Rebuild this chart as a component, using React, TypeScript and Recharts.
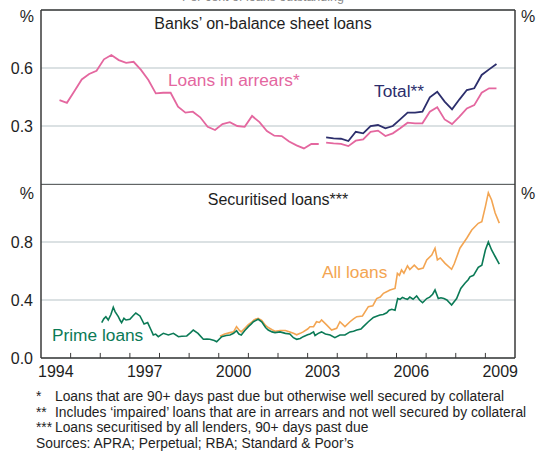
import { LineChart, Line, XAxis, YAxis, CartesianGrid, ReferenceLine } from 'recharts'

const FONT = "Arial, 'Liberation Sans', sans-serif"
const FRAME = '#3a3a3a'
const GRID = '#b8c3c7'
const PINK = '#e4679f'
const NAVY = '#2c2e6c'
const GREEN = '#0b7a56'
const ORANGE = '#f3a552'

// banks' on-balance sheet loans, quarterly
const arrearsDates = [
  1994.625, 1994.875, 1995.125, 1995.375, 1995.625, 1995.875, 1996.125, 1996.375,
  1996.625, 1996.875, 1997.125, 1997.375, 1997.625, 1997.875, 1998.125, 1998.375,
  1998.625, 1998.875, 1999.125, 1999.375, 1999.625, 1999.875, 2000.125, 2000.375,
  2000.625, 2000.875, 2001.125, 2001.375, 2001.625, 2001.875, 2002.125, 2002.375,
  2002.625, 2002.875, 2003.125, 2003.375, 2003.5,
  2003.625, 2003.875, 2004.125, 2004.375, 2004.625, 2004.875, 2005.125, 2005.375,
  2005.625, 2005.875, 2006.125, 2006.375, 2006.625, 2006.875, 2007.125, 2007.375,
  2007.625, 2007.875, 2008.125, 2008.375, 2008.625, 2008.875, 2009.125, 2009.375,
]
const arrearsValues = [
  0.434, 0.42, 0.48, 0.541, 0.569, 0.586, 0.645, 0.667,
  0.641, 0.627, 0.632, 0.59, 0.538, 0.469, 0.472, 0.472,
  0.4, 0.369, 0.374, 0.345, 0.296, 0.279, 0.31, 0.32,
  0.3, 0.296, 0.352, 0.32, 0.274, 0.25, 0.248, 0.22,
  0.2, 0.184, 0.207, 0.207, null,
  0.214, 0.21, 0.208, 0.196, 0.224, 0.231, 0.27, 0.276,
  0.248, 0.262, 0.288, 0.317, 0.314, 0.314, 0.374, 0.397,
  0.334, 0.31, 0.348, 0.391, 0.408, 0.472, 0.495, 0.495,
]
const totalDates = [
  2003.625, 2003.875, 2004.125, 2004.375, 2004.625, 2004.875, 2005.125, 2005.375,
  2005.625, 2005.875, 2006.125, 2006.375, 2006.625, 2006.875, 2007.125, 2007.375,
  2007.625, 2007.875, 2008.125, 2008.375, 2008.625, 2008.875, 2009.125, 2009.375,
]
const totalValues = [
  0.241, 0.236, 0.234, 0.222, 0.27, 0.262, 0.3, 0.305,
  0.288, 0.3, 0.334, 0.369, 0.369, 0.374, 0.448, 0.477,
  0.426, 0.386, 0.438, 0.486, 0.495, 0.564, 0.593, 0.621,
]

// securitised loans, roughly monthly
const primeDates = [
  1996.05, 1996.12, 1996.19, 1996.27, 1996.36, 1996.44, 1996.5, 1996.61, 1996.67, 1996.72,
  1996.8, 1996.87, 1997.0, 1997.1, 1997.2, 1997.34, 1997.48, 1997.6, 1997.7, 1997.79,
  1997.87, 1997.96, 1998.05, 1998.13, 1998.3, 1998.47, 1998.64, 1998.75, 1998.92, 1999.05,
  1999.14, 1999.3, 1999.48, 1999.6, 1999.7, 1999.85, 1999.93, 2000.1, 2000.25, 2000.38,
  2000.5, 2000.6, 2000.68, 2000.76, 2000.88, 2001.0, 2001.1, 2001.17, 2001.33, 2001.45,
  2001.58, 2001.67, 2001.8, 2001.9, 2002.07, 2002.25, 2002.4, 2002.52, 2002.63, 2002.75,
  2002.85, 2003.0, 2003.08, 2003.2, 2003.25, 2003.36, 2003.47, 2003.6, 2003.76, 2003.92,
  2004.09, 2004.26, 2004.43, 2004.55, 2004.66, 2004.8, 2004.88, 2005.05, 2005.22, 2005.35,
  2005.44, 2005.55, 2005.67, 2005.75, 2005.84, 2005.95, 2006.04, 2006.12, 2006.2, 2006.28,
  2006.37, 2006.45, 2006.56, 2006.68, 2006.78, 2006.88, 2007.02, 2007.12, 2007.22, 2007.3,
  2007.41, 2007.5, 2007.6, 2007.7, 2007.86, 2008.03, 2008.17, 2008.31, 2008.42, 2008.48,
  2008.6, 2008.76, 2008.88, 2009.0, 2009.1, 2009.21, 2009.33, 2009.47,
]
const primeValues = [
  0.244, 0.27, 0.285, 0.262, 0.3, 0.35, 0.32, 0.285, 0.26, 0.244,
  0.274, 0.262, 0.267, 0.29, 0.31, 0.29, 0.234, 0.244, 0.2, 0.159,
  0.165, 0.147, 0.16, 0.17, 0.159, 0.17, 0.147, 0.15, 0.152, 0.175,
  0.193, 0.17, 0.129, 0.13, 0.129, 0.12, 0.112, 0.147, 0.155, 0.159,
  0.17, 0.188, 0.165, 0.159, 0.19, 0.216, 0.235, 0.25, 0.267, 0.25,
  0.21, 0.193, 0.18, 0.175, 0.18, 0.17, 0.166, 0.14, 0.129, 0.135,
  0.147, 0.16, 0.166, 0.18, 0.155, 0.17, 0.18, 0.166, 0.159, 0.14,
  0.159, 0.159, 0.18, 0.185, 0.193, 0.2, 0.216, 0.25, 0.28, 0.29,
  0.297, 0.3, 0.312, 0.33, 0.336, 0.33, 0.41, 0.405, 0.418, 0.41,
  0.405, 0.42, 0.405, 0.428, 0.4, 0.381, 0.41, 0.42, 0.44, 0.469,
  0.41, 0.415, 0.41, 0.4, 0.366, 0.41, 0.48, 0.515, 0.54, 0.56,
  0.57, 0.625, 0.64, 0.745, 0.8, 0.745, 0.7, 0.648,
]
const allDates = [
  2000.04, 2000.2, 2000.38, 2000.5, 2000.6, 2000.7, 2000.76, 2000.88, 2001.0, 2001.1,
  2001.2, 2001.33, 2001.45, 2001.58, 2001.67, 2001.8, 2001.9, 2002.07, 2002.25, 2002.4,
  2002.52, 2002.63, 2002.75, 2002.85, 2003.0, 2003.08, 2003.2, 2003.3, 2003.4, 2003.47,
  2003.64, 2003.81, 2003.98, 2004.09, 2004.26, 2004.43, 2004.55, 2004.66, 2004.85, 2005.05,
  2005.2, 2005.33, 2005.45, 2005.56, 2005.7, 2005.78, 2005.95, 2006.03, 2006.1, 2006.17,
  2006.25, 2006.37, 2006.45, 2006.6, 2006.74, 2006.9, 2007.02, 2007.19, 2007.3, 2007.38,
  2007.48, 2007.64, 2007.86, 2007.95, 2008.14, 2008.37, 2008.54, 2008.76, 2008.88, 2009.0,
  2009.1, 2009.21, 2009.33, 2009.47,
]
const allValues = [
  0.15, 0.165, 0.175, 0.18, 0.216, 0.19, 0.18, 0.205, 0.23, 0.245,
  0.265, 0.274, 0.26, 0.225, 0.21, 0.195, 0.185, 0.19, 0.19, 0.18,
  0.17, 0.16, 0.17, 0.18, 0.2, 0.216, 0.216, 0.25, 0.245, 0.262,
  0.228, 0.193, 0.205, 0.25, 0.216, 0.25, 0.27, 0.285, 0.29, 0.354,
  0.36, 0.41, 0.42, 0.446, 0.46, 0.469, 0.48, 0.584, 0.57, 0.607,
  0.585, 0.635, 0.61, 0.64, 0.612, 0.62, 0.676, 0.71, 0.757, 0.676,
  0.69, 0.653, 0.612, 0.65, 0.757, 0.826, 0.883, 0.929, 0.94, 1.044,
  1.14, 1.09, 1.0, 0.93,
]

const yearLabels = [1994.5, 1997.5, 2000.5, 2003.5, 2006.5, 2009.5]
const yearBreaks = [1995, 1996, 1997, 1998, 1999, 2000, 2001, 2002, 2003, 2004, 2005, 2006, 2007, 2008, 2009]
const topTicks = [0.3, 0.6]
const bottomTicks = [0, 0.4, 0.8]

const zip = (xs: number[], vs: (number | null)[]) => xs.map((x, i) => ({ x, v: vs[i] }))

const tickStyle = { fontSize: 16, fill: '#1e1e1e', fontFamily: FONT }
const fmt = (v: number) => v.toFixed(1)

const App = () => {
  return (
    <div style={{ position: 'absolute', left: 0, top: 0, width: 553, height: 451, background: '#fff', fontFamily: FONT }}>
      <LineChart
        width={553}
        height={184}
        margin={{ top: 10, right: 0, bottom: 0, left: 0 }}
        style={{ position: 'absolute', left: 0, top: 0 }}
      >
        <CartesianGrid yAxisId="l" vertical={false} stroke={GRID} strokeWidth={1.2} />
        <XAxis type="number" dataKey="x" domain={[1994, 2010]} hide allowDataOverflow />
        <YAxis
          yAxisId="l"
          orientation="left"
          width={41}
          domain={[0, 0.9]}
          ticks={topTicks}
          tickLine={false}
          tickSize={0}
          tickMargin={8}
          axisLine={{ stroke: FRAME, strokeWidth: 1.5 }}
          tick={tickStyle}
          tickFormatter={fmt}
        />
        <YAxis
          yAxisId="r"
          orientation="right"
          width={38}
          domain={[0, 0.9]}
          ticks={topTicks}
          tickLine={false}
          tickSize={0}
          tickMargin={7}
          axisLine={{ stroke: FRAME, strokeWidth: 1.5 }}
          tick={tickStyle}
          tickFormatter={fmt}
        />
        <ReferenceLine yAxisId="l" y={0.9} stroke={FRAME} strokeWidth={1.5} />
        <Line
          yAxisId="l"
          data={zip(arrearsDates, arrearsValues)}
          dataKey="v"
          stroke={PINK}
          strokeWidth={1.8}
          dot={false}
          connectNulls={false}
          isAnimationActive={false}
        />
        <Line
          yAxisId="l"
          data={zip(totalDates, totalValues)}
          dataKey="v"
          stroke={NAVY}
          strokeWidth={1.8}
          dot={false}
          isAnimationActive={false}
        />
      </LineChart>

      <LineChart
        width={553}
        height={199}
        margin={{ top: 0, right: 0, bottom: 0, left: 0 }}
        style={{ position: 'absolute', left: 0, top: 184 }}
      >
        <CartesianGrid yAxisId="l" vertical={false} stroke={GRID} strokeWidth={1.2} />
        <XAxis
          type="number"
          dataKey="x"
          domain={[1994, 2010]}
          ticks={yearLabels}
          height={25}
          tickLine={false}
          tickSize={0}
          tickMargin={8}
          axisLine={{ stroke: FRAME, strokeWidth: 1.5 }}
          tick={tickStyle}
          tickFormatter={(v: number) => String(Math.floor(v))}
          allowDataOverflow
        />
        <YAxis
          yAxisId="l"
          orientation="left"
          width={41}
          domain={[0, 1.2]}
          ticks={bottomTicks}
          tickLine={false}
          tickSize={0}
          tickMargin={8}
          axisLine={{ stroke: FRAME, strokeWidth: 1.5 }}
          tick={tickStyle}
          tickFormatter={fmt}
        />
        <YAxis
          yAxisId="r"
          orientation="right"
          width={38}
          domain={[0, 1.2]}
          ticks={bottomTicks}
          tickLine={false}
          tickSize={0}
          tickMargin={7}
          axisLine={{ stroke: FRAME, strokeWidth: 1.5 }}
          tick={tickStyle}
          tickFormatter={fmt}
        />
        <ReferenceLine yAxisId="l" y={1.2} stroke={FRAME} strokeWidth={1.5} />
        {yearBreaks.map((yr) => (
          <ReferenceLine
            key={yr}
            yAxisId="l"
            segment={[{ x: yr, y: 0 }, { x: yr, y: 0.035 }]}
            stroke={FRAME}
            strokeWidth={1}
            ifOverflow="visible"
          />
        ))}
        <Line
          yAxisId="l"
          data={zip(allDates, allValues)}
          dataKey="v"
          stroke={ORANGE}
          strokeWidth={1.6}
          dot={false}
          isAnimationActive={false}
        />
        <Line
          yAxisId="l"
          data={zip(primeDates, primeValues)}
          dataKey="v"
          stroke={GREEN}
          strokeWidth={1.6}
          dot={false}
          isAnimationActive={false}
        />
      </LineChart>

      <svg
        width={553}
        height={451}
        style={{ position: 'absolute', left: 0, top: 0, pointerEvents: 'none' }}
        fontFamily={FONT}
      >
        <text x={263} y={1} fontSize={12.5} fill="#8a8a8a" textAnchor="middle">
          Per cent of loans outstanding
        </text>
        <text x={34} y={22} fontSize={16} fill="#1e1e1e" textAnchor="end">%</text>
        <text x={521} y={22} fontSize={16} fill="#1e1e1e">%</text>
        <text x={34} y={199} fontSize={16} fill="#1e1e1e" textAnchor="end">%</text>
        <text x={521} y={199} fontSize={16} fill="#1e1e1e">%</text>
        <text x={263} y={29} fontSize={16} fill="#1e1e1e" textAnchor="middle">
          Banks’ on-balance sheet loans
        </text>
        <text x={278} y={205} fontSize={16} fill="#1e1e1e" textAnchor="middle">
          Securitised loans***
        </text>
        <g fontSize={17.3}>
          <text x={168} y={86} fill={PINK}>Loans in arrears*</text>
          <text x={374} y={97} fill={NAVY}>Total**</text>
          <text x={322} y={278} fill={ORANGE}>All loans</text>
          <text x={52} y={341} fill={GREEN}>Prime loans</text>
        </g>
        <g fontSize={13.8} fill="#1e1e1e">
          <text x={36} y={401}>*</text>
          <text x={55} y={401}>Loans that are 90+ days past due but otherwise well secured by collateral</text>
          <text x={36} y={416.5}>**</text>
          <text x={55} y={416.5}>Includes ‘impaired’ loans that are in arrears and not well secured by collateral</text>
          <text x={36} y={432}>***</text>
          <text x={55} y={432}>Loans securitised by all lenders, 90+ days past due</text>
          <text x={36} y={447.5}>Sources: APRA; Perpetual; RBA; Standard &amp; Poor’s</text>
        </g>
      </svg>
    </div>
  )
}

export default App
